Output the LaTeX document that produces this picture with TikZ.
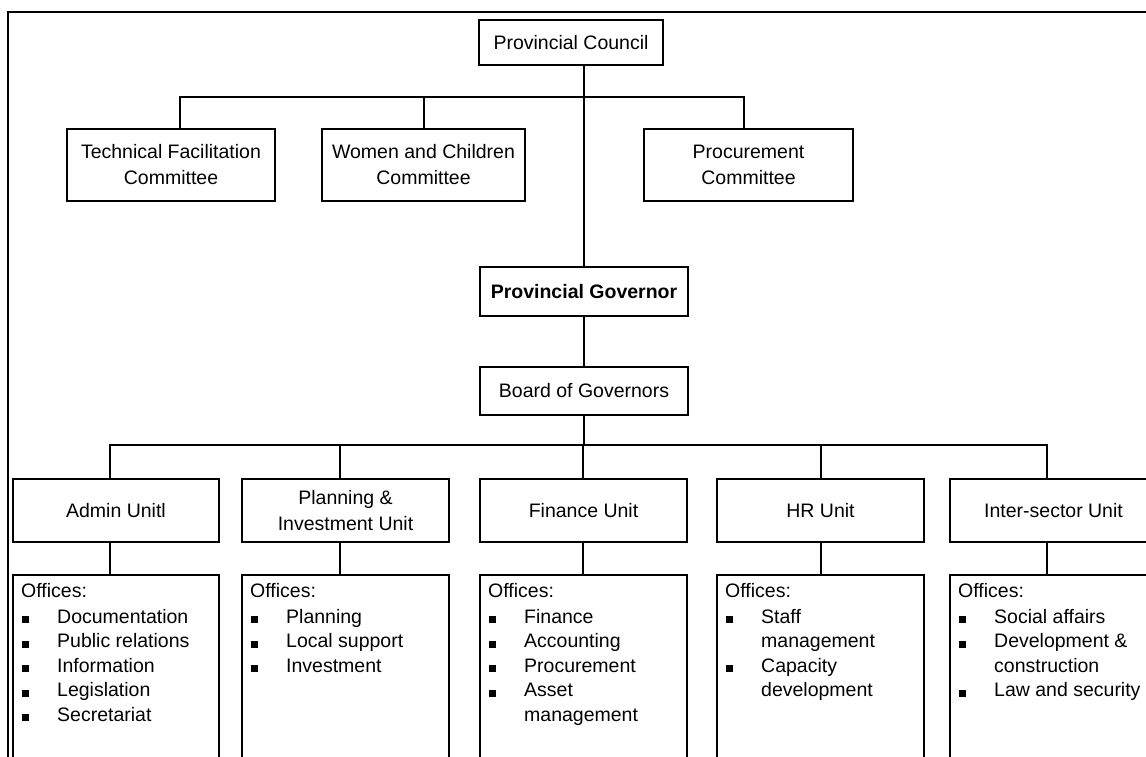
\documentclass[tikz,border=0pt]{standalone}
\usepackage{fontspec}
\setmainfont{Liberation Sans}
\usetikzlibrary{calc}
\newcommand\bul{\makebox[36pt][l]{\hspace{1pt}\rule{7pt}{7pt}}}
\newcommand\ind{\hspace*{36pt}}
\begin{document}
\begin{tikzpicture}[x={(1pt,0pt)},y={(0pt,-1pt)},
  box/.style={draw,line width=2pt,inner sep=0pt,anchor=north west,align=center,font=\fontsize{19.5}{26}\selectfont},
  obox/.style={draw,line width=2pt,inner sep=0pt,anchor=north west,minimum width=207pt,minimum height=230pt},
  olist/.style={anchor=north west,inner sep=0pt,align=left,font=\fontsize{19.5}{24.5}\selectfont},
  conn/.style={line width=2pt},
  frame/.style={line width=1.8pt}]
\useasboundingbox (0,0) rectangle (1146,757);
\clip (0,0) rectangle (1146,757);
\draw[frame] (8,760) -- (8,12) -- (1150,12);

% top
\node[box,minimum width=184pt,minimum height=45pt] (council) at (478,19) {Provincial Council};
\node[box,minimum width=208pt,minimum height=72pt] (tech) at (66,128) {Technical Facilitation\\Committee};
\node[box,minimum width=203pt,minimum height=72pt] (women) at (321,128) {Women and Children\\Committee};
\node[box,minimum width=209pt,minimum height=72pt] (proc) at (643,128) {Procurement\\Committee};
\node[box,minimum width=208pt,minimum height=49pt,font=\fontsize{19.5}{26}\selectfont\bfseries] (gov) at (479,266) {Provincial Governor};
\node[box,minimum width=208pt,minimum height=48pt] (board) at (479,366) {Board of Governors};

% units
\node[box,minimum width=206pt,minimum height=63pt] (admin) at (12,478) {Admin Unitl};
\node[box,minimum width=207pt,minimum height=63pt] (plan) at (241,478) {Planning \&\\Investment Unit};
\node[box,minimum width=207pt,minimum height=63pt] (fin) at (479,478) {Finance Unit};
\node[box,minimum width=207pt,minimum height=63pt] (hr) at (716,478) {HR Unit};
\node[box,minimum width=207pt,minimum height=63pt] (inter) at (949,478) {Inter-sector Unit};

% offices boxes
\node[obox,minimum width=206pt] (aoff) at (12,574) {};
\node[obox] (poff) at (241,574) {};
\node[obox] (foff) at (479,574) {};
\node[obox] (hoff) at (716,574) {};
\node[obox] (ioff) at (949,574) {};

\node[olist] (atext) at (21,583) {Offices:\\[1.5pt]\bul Documentation\\\bul Public relations\\\bul Information\\\bul Legislation\\\bul Secretariat};
\node[olist] (ptext) at (250,583) {Offices:\\[1.5pt]\bul Planning\\\bul Local support\\\bul Investment};
\node[olist] (ftext) at (488,583) {Offices:\\[1.5pt]\bul Finance\\\bul Accounting\\\bul Procurement\\\bul Asset\\\ind management};
\node[olist] (htext) at (725,583) {Offices:\\[1.5pt]\bul Staff\\\ind management\\\bul Capacity\\\ind development};
\node[olist] (itext) at (958,583) {Offices:\\[1.5pt]\bul Social affairs\\\bul Development \&\\\ind construction\\\bul Law and security};

% connectors top
\coordinate (tb) at (180,97);
\coordinate (pb) at (744,97);
\draw[conn] (tb |- tech.north) -- (tb) -- (pb) -- (pb |- proc.north);
\draw[conn] (women.north) -- (women.north |- tb);
\draw[conn] (council.south -| gov.north) -- (gov.north);
\draw[conn] (gov.south) -- (board.north);

% unit bus
\coordinate (ua) at (110,445);
\coordinate (up) at (340,445);
\coordinate (uf) at (583,445);
\coordinate (uh) at (821,445);
\coordinate (ui) at (1047,445);
\draw[conn] (ua |- admin.north) -- (ua) -- (ui) -- (ui |- inter.north);
\draw[conn] (board.south) -- (board.south |- ua);
\draw[conn] (up) -- (up |- plan.north);
\draw[conn] (uf) -- (uf |- fin.north);
\draw[conn] (uh) -- (uh |- hr.north);

% unit to offices
\draw[conn] (ua |- admin.south) -- (ua |- aoff.north);
\draw[conn] (up |- plan.south) -- (up |- poff.north);
\draw[conn] (uf |- fin.south) -- (uf |- foff.north);
\draw[conn] (uh |- hr.south) -- (uh |- hoff.north);
\draw[conn] (ui |- inter.south) -- (ui |- ioff.north);
\end{tikzpicture}
\end{document}
